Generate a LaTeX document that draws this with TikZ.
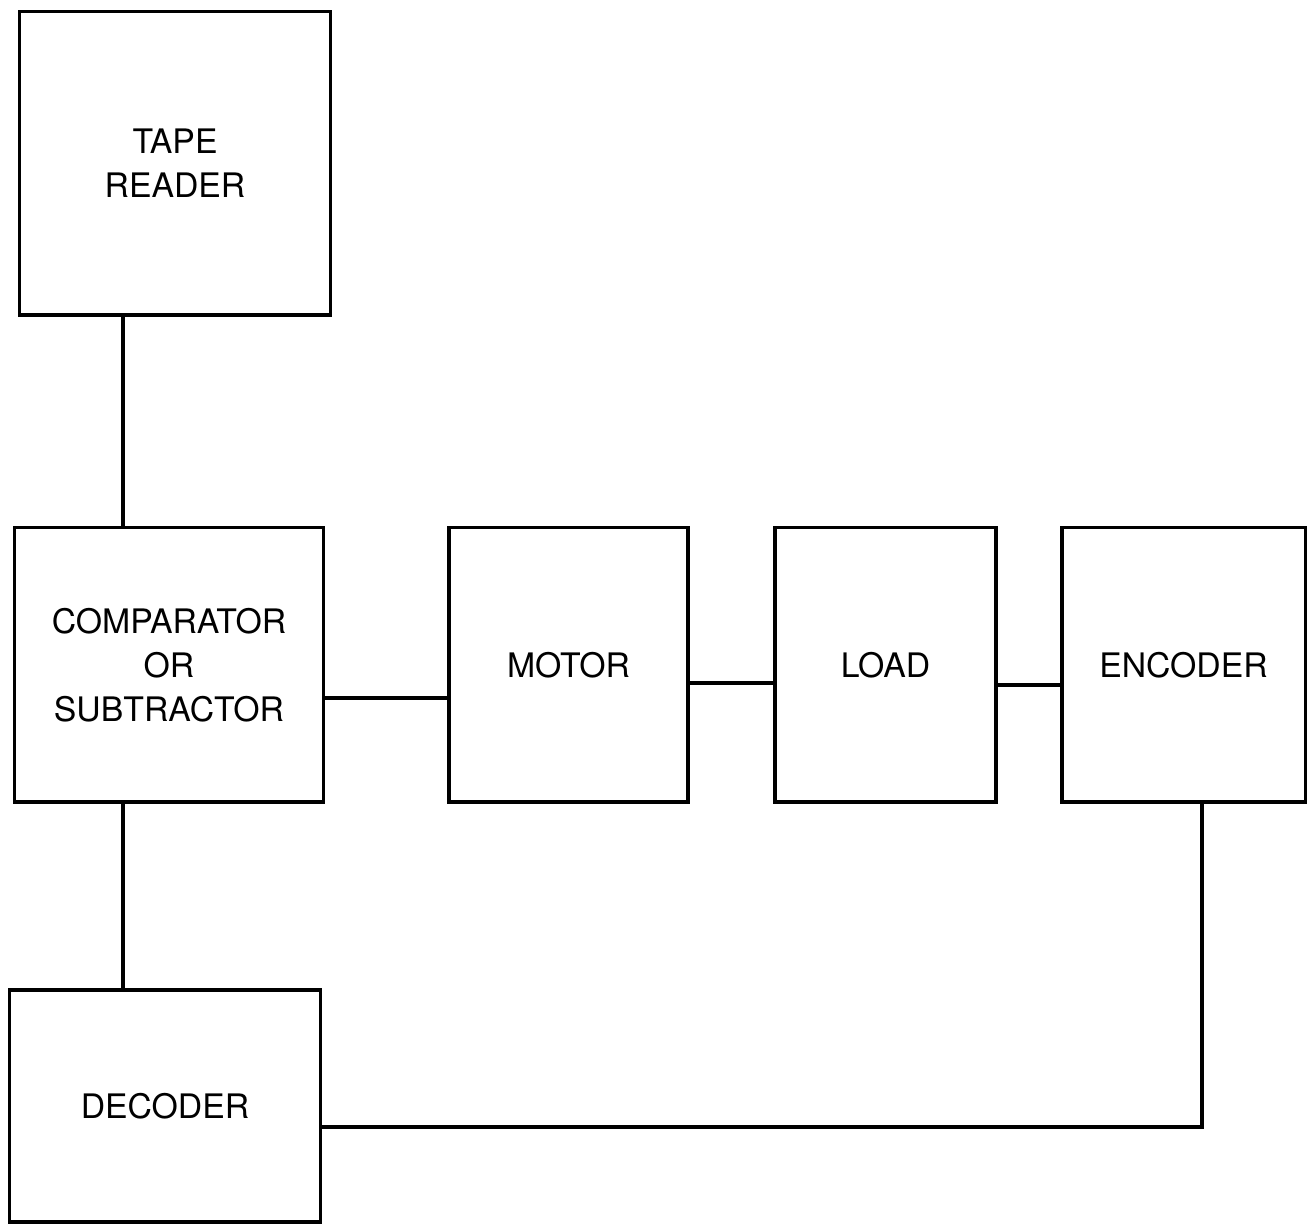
\documentclass[tikz,border=0pt]{standalone}
\usepackage{fontspec}
\setmainfont{TeX Gyre Heros}
\usepackage{tikz}

\tikzset{
  blk/.style={draw, line width=0.9pt, align=center, inner sep=0pt,
    font=\fontsize{9.6}{12.5}\selectfont},
  wire/.style={line width=0.9pt}
}

\begin{document}
\begin{tikzpicture}[x=0.01cm, y=-0.01cm]
\useasboundingbox (0,0) rectangle (1315,1225);
% blocks
\node [blk, minimum width=3.10cm, minimum height=3.03cm] (tape) at (175,163.5) {TAPE\\READER};
\node [blk, minimum width=3.08cm, minimum height=2.74cm] (comp) at (169,665) {COMPARATOR\\OR\\SUBTRACTOR};
\node [blk, minimum width=2.39cm, minimum height=2.74cm] (motor) at (568.5,665) {MOTOR};
\node [blk, minimum width=2.21cm, minimum height=2.74cm] (load) at (885.5,665) {LOAD};
\node [blk, minimum width=2.43cm, minimum height=2.74cm] (enc) at (1183.5,665) {ENCODER};
\node [blk, minimum width=3.10cm, minimum height=2.32cm] (dec) at (165,1106) {DECODER};
% helper coordinates
\coordinate (vx) at (123,0);
\coordinate (ex) at (1202,0);
\coordinate (h1) at (0,698);
\coordinate (h2) at (0,683);
\coordinate (h3) at (0,685);
\coordinate (h4) at (0,1127);
% connections
\draw [wire] (tape.south -| vx) -- (comp.north -| vx);
\draw [wire] (comp.south -| vx) -- (dec.north -| vx);
\draw [wire] (comp.east |- h1) -- (motor.west |- h1);
\draw [wire] (motor.east |- h2) -- (load.west |- h2);
\draw [wire] (load.east |- h3) -- (enc.west |- h3);
\draw [wire] (enc.south -| ex) |- (dec.east |- h4);
\end{tikzpicture}
\end{document}
